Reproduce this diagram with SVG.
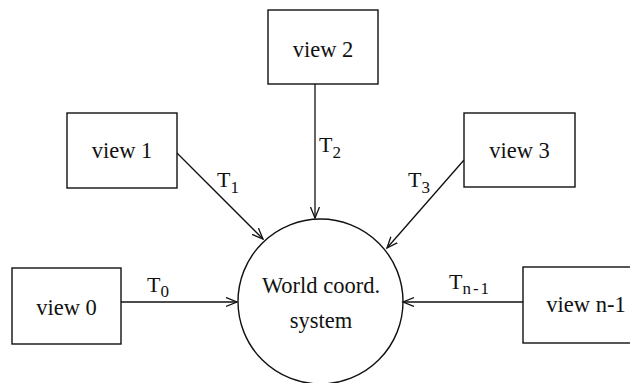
<svg xmlns="http://www.w3.org/2000/svg" width="630" height="383" viewBox="0 0 630 383">
<style>
.box{fill:#fff;stroke:#111;stroke-width:1.4}
.lbl{font-family:"Liberation Serif","Times New Roman",serif;font-size:22.5px;fill:#111;text-anchor:middle}
.t{font-family:"Liberation Serif","Times New Roman",serif;font-size:22px;fill:#111}
.sub{font-size:17px}
.edge{stroke:#111;stroke-width:1.3;fill:none;marker-end:url(#ah)}
</style>
<defs>
<marker id="ah" markerUnits="userSpaceOnUse" markerWidth="14" markerHeight="12" refX="11" refY="5" orient="auto">
<path d="M0,0.5 L11,5 L0,9.5" fill="none" stroke="#111" stroke-width="1.3"/>
</marker>
</defs>
<rect width="630" height="383" fill="#fff"/>
<g id="connectors">
<line class="edge" x1="121" y1="302" x2="237" y2="302"/>
<line class="edge" x1="523" y1="302" x2="403" y2="302"/>
<line class="edge" x1="315" y1="84" x2="315" y2="218"/>
<line class="edge" x1="177" y1="153" x2="263" y2="239"/>
<line class="edge" x1="464" y1="160" x2="387" y2="248"/>
<text class="t" x="147" y="292">T<tspan class="sub" dy="5">0</tspan></text>
<text class="t" x="449" y="289">T<tspan class="sub" dy="5" letter-spacing="2">n-1</tspan></text>
<text class="t" x="319" y="152">T<tspan class="sub" dy="6">2</tspan></text>
<text class="t" x="217" y="187">T<tspan class="sub" dy="6">1</tspan></text>
<text class="t" x="408" y="187">T<tspan class="sub" dy="6">3</tspan></text>
</g>
<g id="world">
<circle cx="320.5" cy="301.5" r="82.5" fill="none" stroke="#111" stroke-width="1.4"/>
<text class="lbl" x="321" y="293">World coord.</text>
<text class="lbl" x="321" y="328">system</text>
</g>
<g id="view0">
<rect class="box" x="12" y="268" width="109" height="76"/>
<text class="lbl" x="66.5" y="315">view 0</text>
</g>
<g id="view1">
<rect class="box" x="67" y="113" width="110" height="75"/>
<text class="lbl" x="122" y="158">view 1</text>
</g>
<g id="view2">
<rect class="box" x="268" y="10" width="110" height="74"/>
<text class="lbl" x="323" y="57">view 2</text>
</g>
<g id="view3">
<rect class="box" x="464" y="113" width="111" height="74"/>
<text class="lbl" x="519.5" y="158">view 3</text>
</g>
<g id="viewn1">
<rect class="box" x="523" y="267" width="112" height="76"/>
<text class="lbl" x="586" y="312">view n-1</text>
</g>
</svg>
